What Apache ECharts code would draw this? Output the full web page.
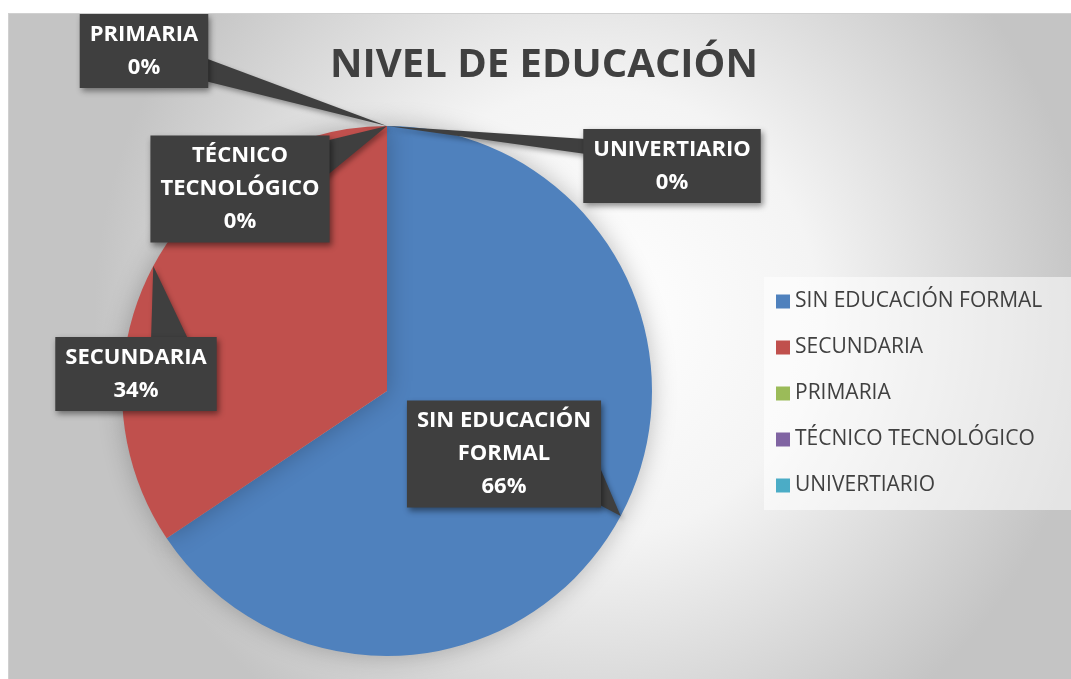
<!DOCTYPE html>
<html>
<head>
<meta charset="utf-8">
<script src="https://cdn.jsdelivr.net/npm/echarts@6/dist/echarts.min.js"></script>
<style>
    html, body { margin: 0; padding: 0; background: #ffffff; }
    #chart {
        position: absolute;
        left: 8px;
        top: 13px;
        width: 1063px;
        height: 666px;
        border-top: 1px solid #d0d0d0;
        border-left: 1px solid #d0d0d0;
        box-sizing: border-box;
    }
</style>
</head>
<body>
<div id="chart"></div>
<script>
var categories = ['SIN EDUCACIÓN FORMAL', 'SECUNDARIA', 'PRIMARIA', 'TÉCNICO TECNOLÓGICO', 'UNIVERTIARIO'];
var labelNames = ['SIN EDUCACIÓN\nFORMAL', 'SECUNDARIA', 'PRIMARIA', 'TÉCNICO\nTECNOLÓGICO', 'UNIVERTIARIO'];
var values = [21, 11, 0, 0, 0];
var colors = ['#4f81bd', '#c0504d', '#9bbb59', '#8064a2', '#4bacc6'];

// callout box centres and the two base corners of each pointer (chart pixels)
var labelSpots = [[495, 440], [127, 360], [135, 37], [231, 175], [663, 152]];
var pointerBase = [
    [[589, 449], [589, 490]],
    [[142, 327], [180, 327]],
    [[196, 44], [196, 67]],
    [[316, 127], [316, 163]],
    [[577, 125], [577, 140]]
];
var boxColor = '#3f3f3f';

function makeData(transparent) {
    var arr = [];
    for (var i = 0; i < categories.length; i++) {
        arr.push({
            name: categories[i],
            value: values[i],
            itemStyle: { color: transparent ? 'rgba(0,0,0,0)' : colors[i] }
        });
    }
    return arr;
}

var option = {
    animation: false,
    backgroundColor: {
        type: 'radial',
        x: 0.55,
        y: 0.45,
        r: 0.75,
        colorStops: [
            { offset: 0, color: '#ffffff' },
            { offset: 0.45, color: '#f4f4f4' },
            { offset: 1, color: '#c4c4c4' }
        ]
    },
    title: {
        text: 'NIVEL DE EDUCACIÓN',
        left: 316,
        top: 27,
        textStyle: {
            fontFamily: 'Open Sans',
            fontWeight: 'bold',
            fontSize: 40,
            color: '#404040'
        }
    },
    legend: {
        orient: 'vertical',
        left: 755,
        top: 263,
        padding: [14, 29, 14, 12],
        backgroundColor: 'rgba(255,255,255,0.55)',
        itemWidth: 14,
        itemHeight: 14,
        itemGap: 25,
        icon: 'rect',
        data: categories,
        textStyle: {
            fontFamily: 'Open Sans',
            fontSize: 21,
            color: '#404040'
        }
    },
    series: [
        {
            // the slices
            type: 'pie',
            z: 2,
            center: [378, 377],
            radius: 265,
            startAngle: 90,
            clockwise: true,
            data: makeData(false),
            itemStyle: {
                shadowBlur: 25,
                shadowColor: 'rgba(0,0,0,0.25)'
            },
            emphasis: { disabled: true },
            label: { show: false },
            labelLine: { show: false }
        },
        {
            // same pie, only for the callout labels (drawn above the pointers)
            type: 'pie',
            z: 4,
            center: [378, 377],
            radius: 265,
            startAngle: 90,
            clockwise: true,
            percentPrecision: 0,
            avoidLabelOverlap: false,
            silent: true,
            legendHoverLink: false,
            data: makeData(true),
            emphasis: { disabled: true },
            label: {
                show: true,
                position: 'outside',
                formatter: function (p) {
                    return labelNames[p.dataIndex] + '\n' + p.percent + '%';
                },
                fontFamily: 'Open Sans',
                fontWeight: 'bold',
                fontSize: 22,
                lineHeight: 33,
                color: '#ffffff',
                align: 'center',
                backgroundColor: boxColor,
                padding: [6, 10, 2, 10],
                shadowColor: 'rgba(0,0,0,0.45)',
                shadowBlur: 6,
                shadowOffsetX: 2,
                shadowOffsetY: 3
            },
            labelLine: { show: false },
            labelLayout: function (params) {
                var spot = labelSpots[params.dataIndex];
                return {
                    x: spot[0],
                    y: spot[1],
                    align: 'center',
                    verticalAlign: 'middle'
                };
            }
        }
    ]
};

var myChart = echarts.init(document.getElementById('chart'));
myChart.setOption(option);

// pointers: tip on the slice edge at its mid angle, taken from the pie layout
var pieData = myChart.getModel().getSeriesByIndex(0).getData();
var pointers = [];
for (var i = 0; i < categories.length; i++) {
    var lay = pieData.getItemLayout(i);
    var mid = (lay.startAngle + lay.endAngle) / 2;
    var tip = [lay.cx + lay.r * Math.cos(mid), lay.cy + lay.r * Math.sin(mid)];
    pointers.push({
        type: 'polygon',
        z: 3,
        silent: true,
        shape: { points: [tip, pointerBase[i][0], pointerBase[i][1]] },
        style: {
            fill: boxColor,
            shadowColor: 'rgba(0,0,0,0.35)',
            shadowBlur: 5,
            shadowOffsetX: 2,
            shadowOffsetY: 3
        }
    });
}
myChart.setOption({ graphic: pointers });
</script>
</body>
</html>
